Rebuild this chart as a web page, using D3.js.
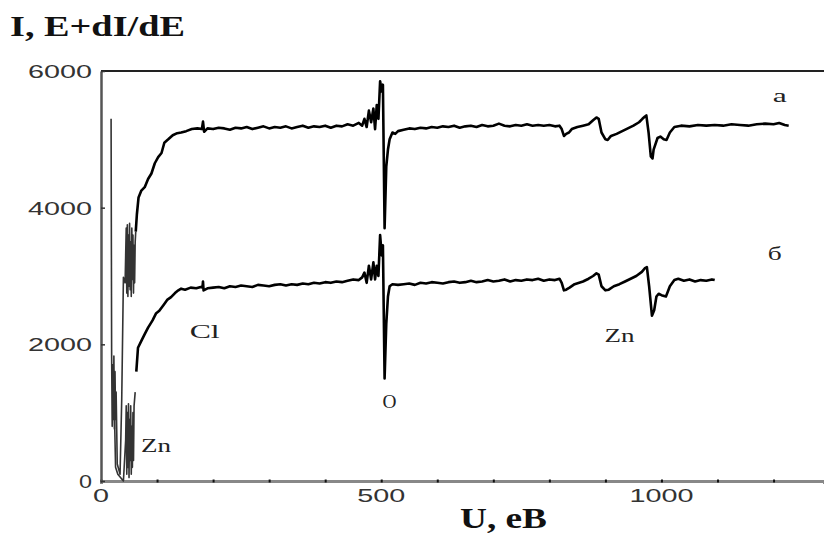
<!DOCTYPE html>
<html>
<head>
<meta charset="utf-8">
<script src="https://cdn.jsdelivr.net/npm/d3@7"></script>
<style>
  body { margin: 0; background: #fff; }
  svg { display: block; }
</style>
</head>
<body>
<svg width="824" height="536"></svg>
<script>
// spectrum "а" (upper) : [energy eV, intensity]
const curveA = [
  [18,5300],[19,1800],[20,800],[21,1700],[22,900],[23,1830],[24,760],[25,1600],[26,900],[27,1300],
  [29,250],[34,100],[37,1200],[40,2980],[43,2900],[45,3700],[46,2750],[47,3750],[48,2700],[49,3600],
  [50,2850],[51,3770],[52,2800],[53,3500],[54,2700],[55,3700],[56,2950],[57,3600],[58,2750],[59,3450],
  [60,2900],[61,3500],[62,3650],[64,3900],[67,4150],[72,4250],[78,4300],[84,4420],[90,4500],[96,4650],
  [102,4740],[108,4800],[113,4950],[120,5000],[128,5060],[136,5090],[143,5100],[152,5120],[162,5150],
  [172,5160],[180,5150],[182,5260],[184,5110],[190,5160],[200,5150],[210,5170],[220,5160],[230,5140],
  [240,5170],[250,5160],[260,5180],[270,5150],[280,5170],[290,5190],[300,5160],[310,5180],[320,5170],
  [330,5190],[340,5160],[350,5180],[360,5200],[370,5170],[380,5190],[390,5180],[400,5200],[410,5170],
  [420,5200],[430,5190],[440,5220],[450,5200],[460,5240],[466,5200],[470,5300],[474,5180],[478,5420],
  [482,5250],[486,5450],[489,5150],[492,5500],[495,5300],[498,5850],[501,5700],[503,5800],[506,3700],
  [509,4600],[512,4850],[515,5000],[520,5100],[525,5080],[530,5120],[540,5140],[550,5160],[560,5150],
  [570,5170],[580,5160],[590,5180],[600,5170],[610,5190],[620,5180],[630,5200],[640,5170],[650,5190],
  [660,5200],[670,5180],[680,5210],[690,5190],[700,5200],[710,5230],[720,5200],[730,5190],[740,5210],
  [750,5200],[760,5220],[770,5200],[780,5210],[790,5200],[800,5210],[810,5190],[818,5200],[822,5150],
  [826,5050],[830,5080],[835,5100],[840,5150],[850,5180],[860,5200],[870,5220],[878,5280],[884,5320],
  [888,5300],[893,5100],[900,5000],[904,4990],[910,5050],[920,5080],[930,5120],[940,5160],[950,5200],
  [960,5250],[966,5300],[970,5330],[973,5350],[977,5100],[981,4750],[984,4720],[986,4850],[993,5020],
  [998,5040],[1004,5000],[1009,4990],[1015,5100],[1023,5180],[1035,5200],[1050,5190],[1065,5210],
  [1080,5200],[1095,5210],[1110,5200],[1125,5220],[1140,5210],[1155,5200],[1170,5220],[1185,5230],
  [1200,5220],[1210,5240],[1220,5210],[1227,5200]
];

// spectrum "б" (lower)
const curveB = [
  [24,1000],[26,200],[30,100],[40,0],[44,600],[45,1100],[46,100],[47,1000],[48,200],[49,1130],
  [50,50],[51,900],[52,300],[53,1100],[54,100],[55,800],[56,200],[57,1000],[58,300],[59,1100],
  [61,1300],[63,1600],[66,1950],[72,2050],[78,2150],[84,2245],[92,2350],[98,2450],[104,2490],
  [112,2580],[118,2650],[125,2690],[132,2750],[138,2790],[143,2815],[150,2800],[160,2830],[170,2820],
  [178,2840],[181,2830],[182,2920],[183,2790],[190,2820],[200,2830],[210,2840],[220,2820],[230,2850],
  [240,2840],[250,2860],[260,2850],[270,2840],[280,2870],[290,2860],[300,2850],[310,2870],[320,2880],
  [330,2860],[340,2880],[350,2870],[360,2890],[370,2880],[380,2900],[390,2890],[400,2910],[410,2900],
  [420,2920],[430,2910],[440,2930],[450,2950],[460,2940],[466,2980],[470,3050],[474,2900],[478,3150],
  [482,2950],[486,3200],[489,2950],[492,3150],[495,3000],[498,3600],[501,3300],[503,3450],[506,1500],
  [509,2300],[512,2700],[515,2850],[520,2880],[530,2870],[540,2880],[550,2890],[560,2870],[570,2900],
  [580,2890],[590,2910],[600,2900],[610,2890],[620,2910],[630,2920],[640,2900],[650,2910],[660,2930],
  [670,2910],[680,2920],[690,2940],[700,2920],[710,2930],[720,2950],[730,2920],[740,2940],[750,2930],
  [760,2950],[770,2940],[780,2960],[790,2930],[800,2950],[810,2940],[818,2960],[822,2900],[826,2790],
  [830,2800],[836,2830],[845,2880],[860,2920],[870,2960],[878,3000],[884,3040],[888,3020],[893,2850],
  [900,2790],[906,2800],[915,2850],[925,2880],[935,2920],[945,2960],[955,3000],[965,3060],[970,3110],
  [974,3130],[978,2850],[983,2420],[987,2500],[991,2700],[995,2740],[1000,2720],[1008,2700],
  [1015,2850],[1023,2940],[1030,2960],[1040,2930],[1050,2950],[1060,2920],[1070,2940],[1080,2930],
  [1090,2950],[1095,2940]
];

const yTicks = [0, 2000, 4000, 6000];
const xTicks = [0,100,200,300,400,500,600,700,800,900,1000,1100,1200];
const xTickLabels = [0, 500, 1000];

// peak labels: [text, energy, intensity]
const peakLabels = [
  ["а", 1211, 5650],
  ["б", 1202, 3330],
  ["Cl", 185, 2190],
  ["O", 515, 1170],
  ["Zn", 925, 2130],
  ["Zn", 98, 530]
];

const svg = d3.select('svg');
const x = d3.scaleLinear().domain([0, 1290]).range([101, 824]);
const y = d3.scaleLinear().domain([0, 6000]).range([481, 71]);

const serif = "'Liberation Serif', 'Times New Roman', serif";
const sans = "'Liberation Sans', Arial, sans-serif";

// frame: top border + left and bottom axes
svg.append('line')
  .attr('x1', x(0)).attr('x2', 824)
  .attr('y1', y(6000)).attr('y2', y(6000))
  .attr('stroke', '#222').attr('stroke-width', 2);

const xAxis = svg.append('g')
  .attr('transform', `translate(0, ${y(0)})`)
  .call(d3.axisBottom(x).tickValues(xTicks).tickSize(3).tickFormat(''));
xAxis.select('.domain').attr('stroke', '#888').attr('stroke-width', 3);
xAxis.selectAll('.tick line').attr('y1', -1.5).attr('y2', 1.5)
  .attr('stroke', '#111').attr('stroke-width', 2);

const yAxis = svg.append('g')
  .attr('transform', `translate(${x(0)}, 0)`)
  .call(d3.axisLeft(y).tickValues(yTicks).tickSize(0).tickFormat(''));
yAxis.select('.domain').attr('stroke', '#555').attr('stroke-width', 2.5);
yAxis.selectAll('.tick line').attr('x1', 0).attr('x2', 4)
  .attr('stroke', '#333').attr('stroke-width', 1.5);

// tick labels (scan is stretched horizontally, so widths are forced)
svg.selectAll('.ylab')
  .data(yTicks)
  .enter().append('text')
  .attr('x', 92)
  .attr('y', d => y(d) + 7)
  .attr('text-anchor', 'end')
  .attr('font-family', sans).attr('font-size', 19).attr('fill', '#333')
  .attr('textLength', d => d == 0 ? 13 : 64)
  .attr('lengthAdjust', 'spacingAndGlyphs')
  .text(d => d);

svg.selectAll('.xlab')
  .data(xTickLabels)
  .enter().append('text')
  .attr('x', d => x(d))
  .attr('y', 502)
  .attr('text-anchor', 'middle')
  .attr('font-family', sans).attr('font-size', 19).attr('fill', '#333')
  .attr('textLength', d => String(d).length * 16)
  .attr('lengthAdjust', 'spacingAndGlyphs')
  .text(d => d);

// curves
const line = d3.line().x(d => x(d[0])).y(d => y(d[1]));

function drawCurve(data) {
  // low-energy part looks thinner/greyer in the scan
  svg.append('path')
    .datum(data.filter(d => d[0] <= 62))
    .attr('d', line)
    .attr('fill', 'none').attr('stroke', '#333').attr('stroke-width', 1.6)
    .attr('stroke-linejoin', 'round');
  svg.append('path')
    .datum(data.filter(d => d[0] >= 62))
    .attr('d', line)
    .attr('fill', 'none').attr('stroke', '#000').attr('stroke-width', 2.6)
    .attr('stroke-linejoin', 'round');
}
drawCurve(curveA);
drawCurve(curveB);

// peak labels
svg.selectAll('.peak')
  .data(peakLabels)
  .enter().append('text')
  .attr('x', d => x(d[1]))
  .attr('y', d => y(d[2]) + 7)
  .attr('text-anchor', 'middle')
  .attr('font-family', serif).attr('font-size', 19).attr('fill', '#222')
  .attr('textLength', d => d[0].length == 1 ? 14 : 30)
  .attr('lengthAdjust', 'spacingAndGlyphs')
  .text(d => d[0]);

// axis titles
svg.append('text')
  .attr('x', 10).attr('y', 36)
  .attr('font-family', serif).attr('font-weight', 'bold').attr('font-size', 29)
  .attr('fill', '#111')
  .attr('textLength', 175).attr('lengthAdjust', 'spacingAndGlyphs')
  .text('I, E+dI/dE');

svg.append('text')
  .attr('x', 460).attr('y', 528)
  .attr('font-family', serif).attr('font-weight', 'bold').attr('font-size', 30)
  .attr('fill', '#111')
  .attr('textLength', 87).attr('lengthAdjust', 'spacingAndGlyphs')
  .text('U, eB');
</script>
</body>
</html>
